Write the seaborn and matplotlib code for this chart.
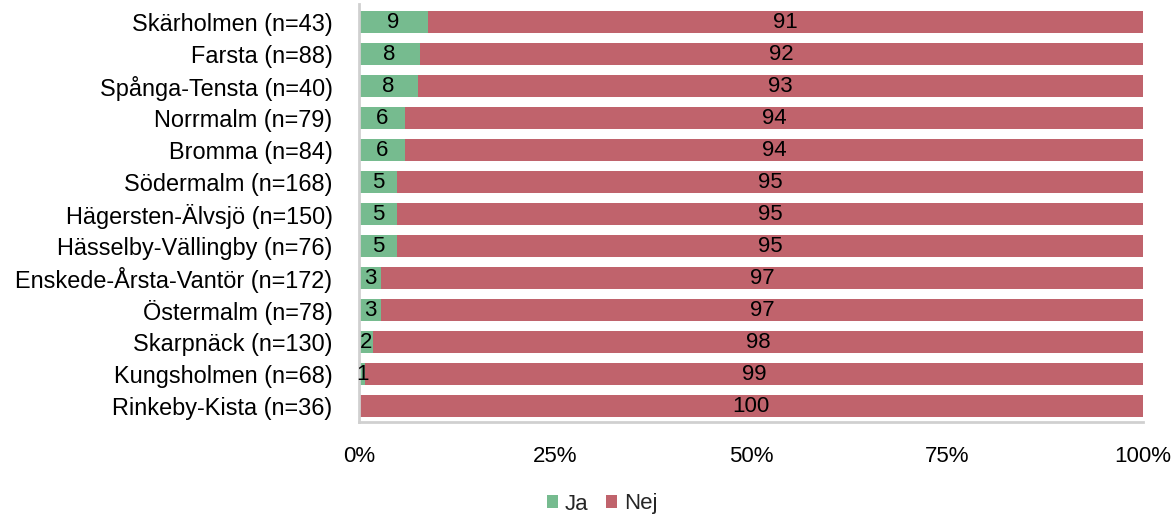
import math
import matplotlib
matplotlib.use("Agg")
import matplotlib.pyplot as plt
import seaborn as sns
import pandas as pd
from matplotlib.patches import Patch

categories = [
    "Skärholmen (n=43)", "Farsta (n=88)", "Spånga-Tensta (n=40)", "Norrmalm (n=79)",
    "Bromma (n=84)", "Södermalm (n=168)", "Hägersten-Älvsjö (n=150)",
    "Hässelby-Vällingby (n=76)", "Enskede-Årsta-Vantör (n=172)", "Östermalm (n=78)",
    "Skarpnäck (n=130)", "Kungsholmen (n=68)", "Rinkeby-Kista (n=36)",
]
ja = [8.8, 7.8, 7.5, 5.9, 5.9, 4.9, 4.9, 4.9, 2.8, 2.8, 1.8, 0.8, 0.0]
nej = [91.2, 92.2, 92.5, 94.1, 94.1, 95.1, 95.1, 95.1, 97.2, 97.2, 98.2, 99.2, 100.0]
x_ticks = [0, 25, 50, 75, 100]
x_tick_labels = ["0%", "25%", "50%", "75%", "100%"]
legend_labels = ["Ja", "Nej"]

GREEN = "#76BB8F"
RED = "#C0636C"
FS = 16

sns.set_theme(style="white")
plt.rcParams["font.family"] = ["Liberation Sans", "DejaVu Sans"]

df = pd.DataFrame({"cat": categories, "ja": ja, "nej": nej})
df["total"] = df["ja"] + df["nej"]

fig = plt.figure(figsize=(11.76, 5.17), dpi=100)
ax = fig.add_axes([359 / 1176, 1 - 422 / 517, (1143 - 359) / 1176, (422 - 4) / 517])

sns.barplot(data=df, y="cat", x="total", color=RED, saturation=1, width=0.68,
            orient="h", ax=ax, order=categories, linewidth=0)
sns.barplot(data=df, y="cat", x="ja", color=GREEN, saturation=1, width=0.68,
            orient="h", ax=ax, order=categories, linewidth=0)

def r(v):
    return str(int(math.floor(v + 0.5)))

for i, (j, n) in enumerate(zip(ja, nej)):
    if j > 0:
        ax.text(j / 2, i + 0.03, r(j), ha="center", va="center", fontsize=FS, color="black")
    ax.text(j + n / 2, i + 0.03, r(n), ha="center", va="center", fontsize=FS, color="black")

ax.set_xlim(0, 100)
ax.set_ylim(len(categories) - 0.5, -0.55)
ax.set_xticks(x_ticks)
ax.set_xticklabels(x_tick_labels)
ax.set_xlabel("")
ax.set_ylabel("")
ax.tick_params(axis="x", length=0, pad=17, labelsize=FS, colors="black")
ax.tick_params(axis="y", length=0, pad=19, labelsize=16.9, colors="black")
for s in ["top", "right"]:
    ax.spines[s].set_visible(False)
for s in ["left", "bottom"]:
    ax.spines[s].set_color("#D0D0D0")
    ax.spines[s].set_linewidth(2)

handles = [Patch(facecolor=GREEN, edgecolor="none"), Patch(facecolor=RED, edgecolor="none")]
fig.legend(handles, legend_labels, loc="center", bbox_to_anchor=(602 / 1176, 1 - 504 / 517),
           ncol=2, frameon=False, fontsize=FS, handlelength=0.5, handleheight=0.5,
           handletextpad=0.3, columnspacing=0.8, borderpad=0)

fig.savefig("out.png", dpi=100)
